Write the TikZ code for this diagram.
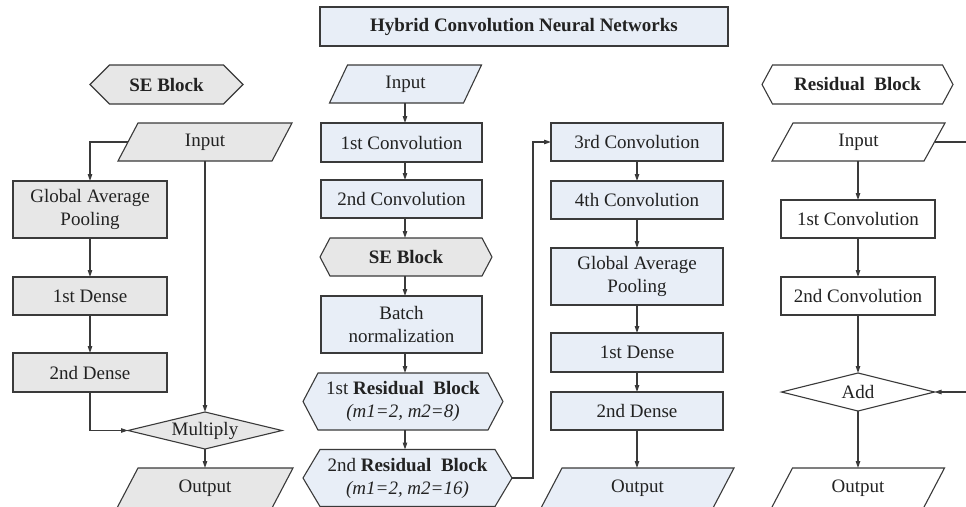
\documentclass[tikz,border=0pt]{standalone}
\usepackage{fontspec}
\setmainfont{Liberation Serif}
\usetikzlibrary{shapes.geometric,arrows.meta,calc}
\pgfdeclarelayer{bg}
\pgfsetlayers{bg,main}
\definecolor{blueFill}{HTML}{E8EEF7}
\definecolor{grayFill}{HTML}{E7E7E7}
\definecolor{lineCol}{HTML}{3A3A3A}
\definecolor{textCol}{HTML}{222222}

\tikzset{
  txt/.style={inner sep=0pt, outer sep=0pt, align=center, text=textCol,
              font=\fontsize{19}{23}\selectfont},
  boldtxt/.style={font=\fontsize{19}{23}\selectfont\bfseries},
  rbox/.style={txt, rectangle, draw=lineCol, line width=1.1pt},
  dbox/.style={txt, diamond, aspect=4, draw=lineCol, line width=1.1pt},
  holder/.style={txt, rectangle},
  wire/.style={draw=lineCol, line width=1.1pt},
  arr/.style={wire, -{Triangle[length=7pt,width=4.5pt]}},
}

% hexagon outline round a holder node: node, point depth, fill
\newcommand\hexoutline[3]{%
  \begin{pgfonlayer}{bg}
    \path[wire, fill=#3] (#1.north west) -- (#1.north east) -- ([xshift=#2pt]#1.east)
      -- (#1.south east) -- (#1.south west) -- ([xshift=-#2pt]#1.west) -- cycle;
  \end{pgfonlayer}}
% parallelogram outline round a holder node: node, half slant, fill
\newcommand\paraoutline[3]{%
  \begin{pgfonlayer}{bg}
    \path[wire, fill=#3] ([xshift=#2pt]#1.north west) -- ([xshift=#2pt]#1.north east)
      -- ([xshift=-#2pt]#1.south east) -- ([xshift=-#2pt]#1.south west) -- cycle;
  \end{pgfonlayer}}

\begin{document}
\begin{tikzpicture}[x=1pt,y=-1pt]
\useasboundingbox (0,0) rectangle (966,506);

% ---------- title ----------
\node[rbox, boldtxt, fill=blueFill, minimum width=408, minimum height=39] (title) at (524,26.5)
  {Hybrid Convolution Neural Networks};

% ---------- SE block ----------
\node[holder, boldtxt, minimum width=114, minimum height=39] (seHead) at (166.5,84.5) {SE Block};
\hexoutline{seHead}{19.5}{grayFill}
\node[holder, minimum width=154, minimum height=38] (seIn) at (205,142) {Input};
\paraoutline{seIn}{10}{grayFill}
\node[rbox, fill=grayFill, minimum width=154, minimum height=57] (seGap) at (90,209.5) {Global Average\\Pooling};
\node[rbox, fill=grayFill, minimum width=154, minimum height=38] (seD1) at (90,296) {1st Dense};
\node[rbox, fill=grayFill, minimum width=154, minimum height=39] (seD2) at (90,372.5) {2nd Dense};
\node[dbox, fill=grayFill, minimum width=154, minimum height=37] (seMul) at (205,430.5) {Multiply};
\node[holder, minimum width=155, minimum height=40] (seOut) at (205,488) {Output};
\paraoutline{seOut}{10.5}{grayFill}

\draw[arr] (seIn.west) -| (seGap.north);
\draw[arr] (seGap.south) -- (seD1.north);
\draw[arr] (seD1.south) -- (seD2.north);
\draw[arr] (seD2.south) |- (seMul.west);
\draw[arr] (seIn.south) -- (seMul.north);
\draw[arr] (seMul.south) -- (seOut.north);

% ---------- main network, first column ----------
\coordinate (mx) at (405,0);
\node[holder, minimum width=134, minimum height=38] (mIn) at (405.5,84) {Input};
\paraoutline{mIn}{9}{blueFill}
\node[rbox, fill=blueFill, minimum width=161, minimum height=39] (mC1) at (401.5,142.5) {1st Convolution};
\node[rbox, fill=blueFill, minimum width=161, minimum height=38] (mC2) at (401.5,199) {2nd Convolution};
\node[holder, boldtxt, minimum width=152, minimum height=38] (mSE) at (406,257) {SE Block};
\hexoutline{mSE}{10}{grayFill}
\node[rbox, fill=blueFill, minimum width=161, minimum height=57] (mBN) at (401.5,324.5) {Batch\\normalization};
\node[holder, minimum width=170, minimum height=57] (mR1) at (403,401.5)
  {1st \textbf{Residual\ \ Block}\\\textit{(m1=2, m2=8)}};
\hexoutline{mR1}{15}{blueFill}
\node[holder, minimum width=175, minimum height=57] (mR2) at (407.5,478)
  {2nd \textbf{Residual\ \ Block}\\\textit{(m1=2, m2=16)}};
\hexoutline{mR2}{17}{blueFill}

\draw[arr] (mIn.south -| mx) -- (mC1.north -| mx);
\draw[arr] (mC1.south -| mx) -- (mC2.north -| mx);
\draw[arr] (mC2.south -| mx) -- (mSE.north -| mx);
\draw[arr] (mSE.south -| mx) -- (mBN.north -| mx);
\draw[arr] (mBN.south -| mx) -- (mR1.north -| mx);
\draw[arr] (mR1.south -| mx) -- (mR2.north -| mx);

% ---------- main network, second column ----------
\node[rbox, fill=blueFill, minimum width=172, minimum height=38] (c3) at (637,142) {3rd Convolution};
\node[rbox, fill=blueFill, minimum width=172, minimum height=38] (c4) at (637,200) {4th Convolution};
\node[rbox, fill=blueFill, minimum width=172, minimum height=57] (cGap) at (637,276.5) {Global Average\\Pooling};
\node[rbox, fill=blueFill, minimum width=172, minimum height=39] (cD1) at (637,352.5) {1st Dense};
\node[rbox, fill=blueFill, minimum width=172, minimum height=38] (cD2) at (637,411) {2nd Dense};
\node[holder, minimum width=172, minimum height=40] (cOut) at (637.5,488) {Output};
\paraoutline{cOut}{10.5}{blueFill}

\coordinate (mR2tip) at ([xshift=17pt]mR2.east);
\coordinate (jump) at (533,0);
\draw[arr] (mR2tip) -- (mR2tip -| jump) -- (c3.west -| jump) -- (c3.west);

\draw[arr] (c3.south) -- (c4.north);
\draw[arr] (c4.south) -- (cGap.north);
\draw[arr] (cGap.south) -- (cD1.north);
\draw[arr] (cD1.south) -- (cD2.north);
\draw[arr] (cD2.south) -- (cD2.south |- cOut.north);

% ---------- residual block ----------
\coordinate (rx) at (858,0);
\node[holder, boldtxt, minimum width=170, minimum height=39] (rHead) at (857.5,84.5) {Residual\ \ Block};
\hexoutline{rHead}{10.5}{white}
\node[holder, minimum width=152, minimum height=38] (rIn) at (858.5,142) {Input};
\paraoutline{rIn}{10.5}{white}
\node[rbox, fill=white, minimum width=154, minimum height=38] (rC1) at (858,219) {1st Convolution};
\node[rbox, fill=white, minimum width=154, minimum height=38] (rC2) at (858,296) {2nd Convolution};
\node[dbox, fill=white, minimum width=153, minimum height=38] (rAdd) at (858,392) {Add};
\node[holder, minimum width=152, minimum height=40] (rOut) at (858,488) {Output};
\paraoutline{rOut}{10.5}{white}

\draw[arr] (rIn.south -| rx) -- (rC1.north -| rx);
\draw[arr] (rC1.south) -- (rC2.north);
\draw[arr] (rC2.south) -- (rAdd.north);
\draw[arr] (rAdd.south) -- (rOut.north);

\coordinate (skip) at (985,0);
\draw[arr] (rIn.east) -- (rIn.east -| skip) -- (rAdd.east -| skip) -- (rAdd.east);
\end{tikzpicture}
\end{document}
